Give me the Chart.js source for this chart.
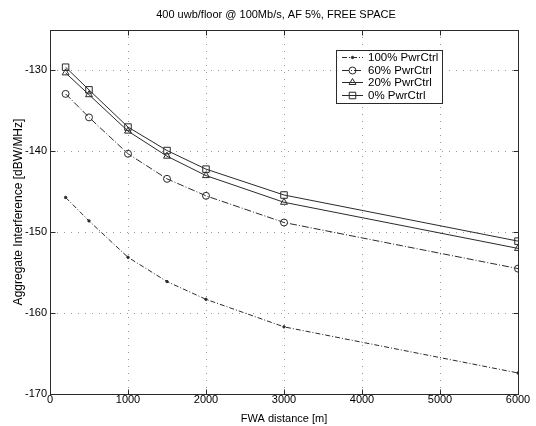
<!DOCTYPE html>
<html>
<head>
<meta charset="utf-8">
<script src="https://cdn.jsdelivr.net/npm/chart.js@4.4.1/dist/chart.umd.min.js"></script>
<style>
  html, body { margin: 0; padding: 0; background: #fff; }
  #wrap { width: 536px; height: 426px; }
</style>
</head>
<body>
<div id="wrap"><canvas id="c" width="536" height="426"></canvas></div>
<script>
// values
const distances = [200, 500, 1000, 1500, 2000, 3000, 6000];
const pwr100 = [-145.7, -148.6, -153.1, -156.1, -158.3, -161.7, -167.4];
const pwr60 = [-132.9, -135.8, -140.3, -143.4, -145.5, -148.8, -154.5];
const pwr20 = [-130.3, -133.0, -137.5, -140.6, -143.0, -146.3, -152.0];
const pwr0 = [-129.6, -132.4, -137.0, -139.9, -142.2, -145.4, -151.1];
const seriesNames = ['100% PwrCtrl', '60% PwrCtrl', '20% PwrCtrl', '0% PwrCtrl'];
const xTicks = [0, 1000, 2000, 3000, 4000, 5000, 6000];
const yTicks = [-170, -160, -150, -140, -130];

const FONT = "'Liberation Sans', Arial, sans-serif";
const INK = '#2a2a2a';

const pts = (ys) => distances.map((x, i) => ({ x: x, y: ys[i] }));

const mk = (label, ys, style, radius, dash, fill) => ({
    label: label,
    data: pts(ys),
    borderColor: INK,
    borderWidth: 1,
    borderDash: dash,
    backgroundColor: fill,
    pointStyle: style,
    pointRadius: radius,
    pointBorderColor: INK,
    pointBackgroundColor: fill,
    pointBorderWidth: 1,
    tension: 0,
    fill: false
});

const datasets = [
    mk(seriesNames[0], pwr100, 'circle', 1.2, [5, 2, 1, 2], INK),
    mk(seriesNames[1], pwr60, 'circle', 3.5, [7, 2, 1, 2], 'rgba(0,0,0,0)'),
    mk(seriesNames[2], pwr20, 'triangle', 4, [], 'rgba(0,0,0,0)'),
    mk(seriesNames[3], pwr0, 'rect', 4.6, [], 'rgba(0,0,0,0)')
];

// matlab-like frame: dotted grid, box, inward ticks, legend, title
const frame = {
    id: 'frame',
    beforeDatasetsDraw(chart) {
        const { ctx, chartArea: a, scales: { x, y } } = chart;
        ctx.save();
        ctx.strokeStyle = '#9a9a9a';
        ctx.lineWidth = 1;
        ctx.setLineDash([1, 6]);
        xTicks.slice(1, -1).forEach(v => {
            const px = Math.round(x.getPixelForValue(v)) + 0.5;
            ctx.beginPath(); ctx.moveTo(px, a.top); ctx.lineTo(px, a.bottom); ctx.stroke();
        });
        yTicks.slice(1).forEach(v => {
            const py = Math.round(y.getPixelForValue(v)) + 0.5;
            ctx.beginPath(); ctx.moveTo(a.left, py); ctx.lineTo(a.right, py); ctx.stroke();
        });
        ctx.restore();
    },
    afterDatasetsDraw(chart) {
        const { ctx, chartArea: a, scales: { x, y } } = chart;
        ctx.save();
        ctx.strokeStyle = INK;
        ctx.lineWidth = 1;
        ctx.setLineDash([]);
        const L = Math.round(a.left) + 0.5, R = Math.round(a.right) + 0.5;
        const T = Math.round(a.top) + 0.5, B = Math.round(a.bottom) + 0.5;
        ctx.strokeRect(L, T, R - L, B - T);
        const tl = 5;
        ctx.beginPath();
        xTicks.forEach(v => {
            const px = Math.round(x.getPixelForValue(v)) + 0.5;
            ctx.moveTo(px, B); ctx.lineTo(px, B - tl);
            ctx.moveTo(px, T); ctx.lineTo(px, T + tl);
        });
        yTicks.forEach(v => {
            const py = Math.round(y.getPixelForValue(v)) + 0.5;
            ctx.moveTo(L, py); ctx.lineTo(L + tl, py);
            ctx.moveTo(R, py); ctx.lineTo(R - tl, py);
        });
        ctx.stroke();

        // title
        ctx.fillStyle = '#000';
        ctx.font = '11px ' + FONT;
        ctx.textAlign = 'center';
        ctx.textBaseline = 'middle';
        ctx.fillText('400 uwb/floor @ 100Mb/s, AF 5%, FREE SPACE', 276, 15);

        // legend
        const bx = 336.5, by = 50.5, bw = 106, bh = 53;
        ctx.fillStyle = '#fff';
        ctx.fillRect(bx, by, bw, bh);
        ctx.strokeRect(bx, by, bw, bh);
        ctx.font = '11.5px ' + FONT;
        ctx.textAlign = 'left';
        chart.data.datasets.forEach((ds, i) => {
            const ry = Math.round(57 + i * 12.7) + 0.5;
            ctx.save();
            ctx.setLineDash(ds.borderDash || []);
            ctx.strokeStyle = INK;
            ctx.beginPath(); ctx.moveTo(342, ry); ctx.lineTo(363, ry); ctx.stroke();
            ctx.restore();
            ctx.save();
            ctx.strokeStyle = INK;
            ctx.fillStyle = ds.pointBackgroundColor;
            ctx.lineWidth = 1;
            Chart.helpers.drawPoint(ctx, {
                pointStyle: ds.pointStyle,
                radius: ds.pointRadius,
                borderWidth: 1,
                rotation: 0
            }, 352.5, ry);
            ctx.restore();
            ctx.fillStyle = '#000';
            ctx.fillText(ds.label, 368, ry + 0.5);
        });
        ctx.restore();
    }
};

new Chart(document.getElementById('c'), {
    type: 'line',
    data: { datasets: datasets },
    options: {
        responsive: false,
        animation: false,
        events: [],
        layout: { padding: { top: 30, right: 18, left: 0, bottom: 0 } },
        plugins: { legend: { display: false }, title: { display: false }, tooltip: { enabled: false } },
        scales: {
            x: {
                type: 'linear',
                min: 0,
                max: 6000,
                afterBuildTicks: s => { s.ticks = xTicks.map(v => ({ value: v })); },
                afterFit: s => { s.height = 32; },
                grid: { display: false, drawTicks: false },
                border: { display: false },
                ticks: {
                    color: '#000',
                    padding: -1,
                    maxRotation: 0,
                    font: { family: FONT, size: 11 },
                    callback: v => String(v)
                },
                title: {
                    display: true,
                    text: 'FWA distance [m]',
                    color: '#000',
                    padding: { top: 0, bottom: 0 },
                    font: { family: FONT, size: 11 }
                }
            },
            y: {
                type: 'linear',
                min: -170,
                max: -125,
                afterBuildTicks: s => { s.ticks = yTicks.map(v => ({ value: v })); },
                afterFit: s => { s.width = 50; },
                grid: { display: false, drawTicks: false },
                border: { display: false },
                ticks: {
                    color: '#000',
                    padding: 3,
                    font: { family: FONT, size: 11 },
                    callback: v => String(v)
                },
                title: {
                    display: true,
                    text: 'Aggregate Interference [dBW/MHz]',
                    color: '#000',
                    padding: { top: 11, bottom: 0 },
                    font: { family: FONT, size: 12 }
                }
            }
        }
    },
    plugins: [frame]
});
</script>
</body>
</html>
